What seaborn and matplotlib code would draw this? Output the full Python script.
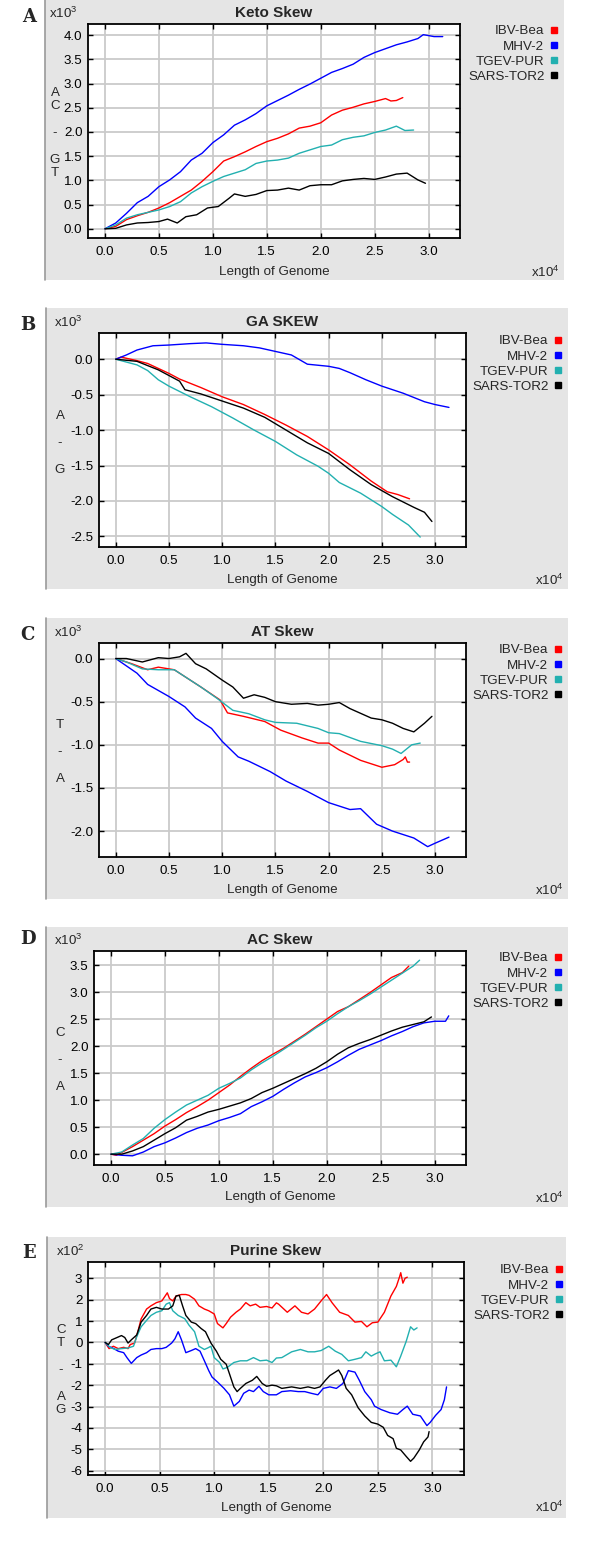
import pandas as pd
import seaborn as sns
import matplotlib.pyplot as plt
from matplotlib.lines import Line2D
from matplotlib.patches import Rectangle

strains = ['IBV-Bea', 'MHV-2', 'TGEV-PUR', 'SARS-TOR2']
colors = ['#ff0000', '#0000ff', '#22b0b0', '#000000']

# x in units of 1e4 bases, y in units of 1e3 (purine skew: 1e2)
keto_ibv = [(0, 0), (0.1, 0.05), (0.2, 0.19), (0.3, 0.27), (0.4, 0.34), (0.5, 0.43), (0.6, 0.54),
            (0.7, 0.67), (0.8, 0.80), (0.9, 0.98), (1.0, 1.18), (1.1, 1.40), (1.2, 1.49), (1.3, 1.59),
            (1.4, 1.70), (1.5, 1.80), (1.6, 1.87), (1.7, 1.96), (1.8, 2.08), (1.9, 2.12), (2.0, 2.19),
            (2.1, 2.35), (2.2, 2.45), (2.3, 2.51), (2.4, 2.58), (2.5, 2.63), (2.6, 2.69), (2.65, 2.64),
            (2.7, 2.65), (2.76, 2.71)]
keto_mhv = [(0, 0), (0.1, 0.12), (0.2, 0.32), (0.3, 0.54), (0.4, 0.67), (0.5, 0.87), (0.6, 1.01),
            (0.7, 1.18), (0.8, 1.42), (0.9, 1.56), (1.0, 1.78), (1.1, 1.94), (1.2, 2.14), (1.3, 2.25),
            (1.4, 2.38), (1.5, 2.54), (1.6, 2.65), (1.7, 2.76), (1.8, 2.88), (1.9, 2.99), (2.0, 3.11),
            (2.1, 3.23), (2.2, 3.31), (2.3, 3.40), (2.4, 3.54), (2.5, 3.64), (2.6, 3.72), (2.7, 3.80),
            (2.8, 3.86), (2.9, 3.93), (2.95, 4.01), (3.05, 3.97), (3.13, 3.97)]
keto_tgev = [(0, 0), (0.1, 0.08), (0.2, 0.22), (0.3, 0.29), (0.4, 0.34), (0.5, 0.39), (0.6, 0.46),
             (0.7, 0.56), (0.8, 0.74), (0.9, 0.87), (1.0, 0.98), (1.1, 1.08), (1.2, 1.15), (1.3, 1.22),
             (1.4, 1.35), (1.5, 1.40), (1.6, 1.42), (1.7, 1.46), (1.8, 1.56), (1.9, 1.63), (2.0, 1.70),
             (2.1, 1.73), (2.2, 1.84), (2.3, 1.89), (2.4, 1.92), (2.5, 1.99), (2.6, 2.04), (2.7, 2.12),
             (2.78, 2.03), (2.86, 2.04)]
keto_sars = [(0, 0), (0.1, 0.01), (0.2, 0.08), (0.3, 0.12), (0.4, 0.13), (0.5, 0.15), (0.58, 0.20),
             (0.67, 0.12), (0.75, 0.25), (0.85, 0.29), (0.95, 0.43), (1.05, 0.46), (1.15, 0.63),
             (1.2, 0.72), (1.3, 0.67), (1.4, 0.71), (1.5, 0.79), (1.6, 0.80), (1.7, 0.84), (1.8, 0.80),
             (1.9, 0.89), (2.0, 0.91), (2.1, 0.91), (2.2, 0.99), (2.3, 1.02), (2.4, 1.04), (2.5, 1.02),
             (2.6, 1.07), (2.7, 1.13), (2.8, 1.15), (2.9, 1.01), (2.97, 0.94)]

ga_ibv = [(0, 0), (0.05, 0.03), (0.2, -0.02), (0.3, -0.06), (0.5, -0.20), (0.6, -0.28), (0.8, -0.40),
          (1.0, -0.53), (1.2, -0.64), (1.4, -0.78), (1.6, -0.93), (1.8, -1.09), (2.0, -1.28),
          (2.2, -1.49), (2.4, -1.72), (2.55, -1.87), (2.65, -1.91), (2.76, -1.97)]
ga_mhv = [(0, 0), (0.1, 0.06), (0.2, 0.13), (0.35, 0.19), (0.5, 0.20), (0.7, 0.22), (0.85, 0.23),
          (1.0, 0.21), (1.2, 0.19), (1.35, 0.16), (1.5, 0.11), (1.65, 0.06), (1.8, -0.07), (2.0, -0.10),
          (2.1, -0.13), (2.2, -0.19), (2.35, -0.29), (2.5, -0.38), (2.6, -0.43), (2.7, -0.48),
          (2.8, -0.54), (2.9, -0.60), (3.0, -0.64), (3.13, -0.68)]
ga_tgev = [(0, 0), (0.2, -0.08), (0.3, -0.16), (0.4, -0.29), (0.5, -0.38), (0.7, -0.53), (0.9, -0.67),
           (1.1, -0.83), (1.3, -1.00), (1.5, -1.16), (1.7, -1.35), (1.9, -1.51), (2.0, -1.61),
           (2.1, -1.74), (2.3, -1.89), (2.5, -2.08), (2.6, -2.19), (2.75, -2.34), (2.86, -2.51)]
ga_sars = [(0, 0), (0.2, -0.03), (0.4, -0.15), (0.6, -0.31), (0.65, -0.43), (0.8, -0.49), (1.0, -0.59),
           (1.2, -0.69), (1.4, -0.82), (1.6, -1.00), (1.8, -1.18), (2.0, -1.33), (2.2, -1.56),
           (2.4, -1.77), (2.6, -1.94), (2.8, -2.09), (2.9, -2.16), (2.97, -2.29)]

at_ibv = [(0, 0), (0.15, -0.06), (0.3, -0.13), (0.4, -0.10), (0.55, -0.13), (0.65, -0.21), (0.8, -0.33),
          (0.98, -0.48), (1.05, -0.63), (1.2, -0.67), (1.4, -0.73), (1.55, -0.83), (1.75, -0.92),
          (1.9, -0.98), (2.0, -0.98), (2.1, -1.06), (2.3, -1.18), (2.5, -1.26), (2.62, -1.23),
          (2.7, -1.17), (2.72, -1.14), (2.74, -1.20), (2.76, -1.20)]
at_mhv = [(0, 0), (0.2, -0.17), (0.3, -0.30), (0.5, -0.44), (0.65, -0.56), (0.75, -0.69), (0.9, -0.81),
          (1.0, -0.96), (1.15, -1.14), (1.25, -1.19), (1.45, -1.31), (1.6, -1.42), (1.8, -1.54),
          (2.0, -1.67), (2.2, -1.75), (2.3, -1.74), (2.45, -1.92), (2.6, -2.00), (2.8, -2.08),
          (2.93, -2.18), (3.0, -2.14), (3.13, -2.07)]
at_tgev = [(0, 0), (0.1, -0.04), (0.25, -0.12), (0.4, -0.13), (0.55, -0.13), (0.65, -0.21), (0.8, -0.33),
           (0.95, -0.46), (1.1, -0.60), (1.25, -0.64), (1.4, -0.71), (1.5, -0.74), (1.7, -0.75),
           (1.9, -0.81), (2.0, -0.86), (2.1, -0.87), (2.3, -0.96), (2.5, -1.01), (2.6, -1.05),
           (2.68, -1.10), (2.78, -1.00), (2.86, -0.98)]
at_sars = [(0, 0), (0.1, 0.0), (0.25, -0.04), (0.4, 0.01), (0.5, 0.0), (0.6, 0.02), (0.66, 0.06),
           (0.75, -0.06), (0.85, -0.12), (1.0, -0.25), (1.1, -0.33), (1.2, -0.46), (1.3, -0.42),
           (1.4, -0.45), (1.5, -0.50), (1.65, -0.53), (1.8, -0.52), (1.9, -0.54), (2.0, -0.53),
           (2.1, -0.51), (2.2, -0.58), (2.4, -0.69), (2.5, -0.71), (2.6, -0.75), (2.7, -0.81),
           (2.8, -0.85), (2.9, -0.75), (2.97, -0.67)]

ac_ibv = [(0, 0), (0.05, -0.02), (0.2, 0.14), (0.3, 0.26), (0.4, 0.38), (0.5, 0.52), (0.6, 0.64),
          (0.7, 0.77), (0.8, 0.88), (0.9, 1.00), (1.0, 1.14), (1.1, 1.28), (1.2, 1.44), (1.3, 1.59),
          (1.4, 1.73), (1.5, 1.85), (1.6, 1.96), (1.7, 2.09), (1.8, 2.22), (1.9, 2.36), (2.0, 2.50),
          (2.1, 2.64), (2.2, 2.73), (2.3, 2.86), (2.4, 2.99), (2.5, 3.13), (2.6, 3.27), (2.7, 3.36),
          (2.76, 3.48)]
ac_mhv = [(0, 0), (0.1, -0.02), (0.2, -0.03), (0.3, 0.04), (0.4, 0.14), (0.5, 0.21), (0.6, 0.30),
          (0.7, 0.40), (0.8, 0.48), (0.9, 0.54), (1.0, 0.62), (1.1, 0.68), (1.2, 0.75), (1.3, 0.88),
          (1.4, 0.97), (1.5, 1.07), (1.6, 1.20), (1.7, 1.32), (1.8, 1.43), (1.9, 1.51), (2.0, 1.60),
          (2.1, 1.71), (2.2, 1.83), (2.3, 1.94), (2.4, 2.02), (2.5, 2.10), (2.6, 2.19), (2.7, 2.27),
          (2.8, 2.36), (2.9, 2.43), (3.0, 2.46), (3.1, 2.46), (3.13, 2.56)]
ac_tgev = [(0, 0), (0.1, 0.04), (0.2, 0.17), (0.3, 0.29), (0.4, 0.48), (0.5, 0.64), (0.6, 0.78),
           (0.7, 0.91), (0.8, 1.00), (0.9, 1.09), (1.0, 1.22), (1.1, 1.31), (1.2, 1.41), (1.3, 1.56),
           (1.4, 1.69), (1.5, 1.81), (1.6, 1.94), (1.7, 2.07), (1.8, 2.20), (1.9, 2.34), (2.0, 2.46),
           (2.1, 2.60), (2.2, 2.73), (2.3, 2.84), (2.4, 2.96), (2.5, 3.09), (2.6, 3.22), (2.7, 3.35),
           (2.8, 3.48), (2.86, 3.59)]
ac_sars = [(0, 0), (0.1, 0.0), (0.2, 0.06), (0.3, 0.14), (0.4, 0.26), (0.5, 0.38), (0.6, 0.49),
           (0.7, 0.63), (0.8, 0.70), (0.9, 0.78), (1.0, 0.83), (1.1, 0.89), (1.2, 0.95), (1.3, 1.03),
           (1.4, 1.14), (1.5, 1.22), (1.6, 1.31), (1.7, 1.40), (1.8, 1.49), (1.9, 1.59), (2.0, 1.71),
           (2.1, 1.85), (2.2, 1.97), (2.3, 2.05), (2.4, 2.12), (2.5, 2.20), (2.6, 2.28), (2.7, 2.35),
           (2.8, 2.40), (2.9, 2.45), (2.97, 2.54)]

pur_ibv = [(0, 0), (0.036, -0.29), (0.076, -0.18), (0.12, -0.29), (0.17, -0.23), (0.21, -0.29),
           (0.23, -0.1), (0.27, -0.03), (0.30, 0.5), (0.33, 1.1), (0.38, 1.56), (0.42, 1.71),
           (0.47, 1.86), (0.52, 1.94), (0.57, 2.32), (0.59, 2.05), (0.62, 1.94), (0.65, 2.17),
           (0.70, 2.24), (0.74, 2.24), (0.77, 2.2), (0.82, 2.02), (0.86, 1.71), (0.91, 1.56),
           (0.95, 1.48), (1.0, 1.33), (1.03, 0.88), (1.08, 0.68), (1.11, 0.88), (1.15, 1.18),
           (1.20, 1.41), (1.24, 1.56), (1.29, 1.86), (1.33, 1.71), (1.38, 1.79), (1.42, 1.64),
           (1.48, 1.68), (1.53, 1.61), (1.57, 1.85), (1.59, 1.79), (1.67, 1.41), (1.74, 1.71),
           (1.80, 1.41), (1.86, 1.33), (1.92, 1.56), (1.98, 1.94), (2.03, 2.24), (2.08, 1.86),
           (2.15, 1.41), (2.23, 1.26), (2.29, 0.95), (2.35, 0.98), (2.40, 0.73), (2.45, 0.92),
           (2.50, 0.95), (2.56, 1.41), (2.62, 2.17), (2.67, 2.62), (2.70, 3.08), (2.71, 3.26),
           (2.73, 2.77), (2.75, 3.0), (2.77, 3.05)]
pur_mhv = [(0, 0), (0.03, -0.18), (0.08, -0.29), (0.12, -0.41), (0.17, -0.48), (0.20, -0.71),
           (0.24, -0.98), (0.29, -0.71), (0.33, -0.59), (0.38, -0.48), (0.42, -0.33), (0.47, -0.29),
           (0.52, -0.29), (0.56, -0.23), (0.61, -0.03), (0.64, 0.17), (0.67, 0.5), (0.70, 0.12),
           (0.74, -0.48), (0.79, -0.38), (0.83, -0.29), (0.87, -0.41), (0.91, -0.86), (0.95, -1.32),
           (0.98, -1.62), (1.03, -1.85), (1.09, -2.15), (1.14, -2.45), (1.18, -2.98), (1.23, -2.76),
           (1.27, -2.38), (1.32, -2.23), (1.36, -2.3), (1.41, -2.05), (1.45, -2.3), (1.50, -2.45),
           (1.57, -2.45), (1.62, -2.3), (1.70, -2.26), (1.77, -2.3), (1.83, -2.3), (1.89, -2.38),
           (1.95, -2.45), (2.0, -2.15), (2.06, -2.08), (2.12, -2.15), (2.18, -1.92), (2.23, -1.32),
           (2.29, -1.39), (2.33, -1.77), (2.38, -2.3), (2.44, -2.68), (2.47, -2.98), (2.53, -3.14),
           (2.61, -3.29), (2.68, -3.36), (2.73, -3.14), (2.77, -2.98), (2.82, -3.36), (2.89, -3.44),
           (2.95, -3.89), (2.98, -3.74), (3.03, -3.41), (3.08, -3.14), (3.11, -2.68), (3.13, -2.08)]
pur_tgev = [(0, 0), (0.045, -0.23), (0.09, -0.33), (0.15, -0.29), (0.21, -0.26), (0.26, -0.18),
            (0.29, 0.27), (0.33, 0.73), (0.38, 1.03), (0.42, 1.26), (0.47, 1.41), (0.52, 1.48),
            (0.56, 1.79), (0.59, 1.86), (0.62, 1.48), (0.67, 1.26), (0.73, 1.11), (0.77, 0.8),
            (0.82, 0.5), (0.86, -0.18), (0.91, -0.33), (0.94, -0.26), (0.97, -0.18), (1.0, -0.71),
            (1.05, -0.94), (1.08, -1.24), (1.12, -1.17), (1.18, -0.94), (1.24, -0.86), (1.30, -0.86),
            (1.36, -0.71), (1.42, -0.86), (1.48, -0.83), (1.53, -0.94), (1.57, -0.73), (1.62, -0.71),
            (1.71, -0.44), (1.79, -0.33), (1.86, -0.44), (1.92, -0.44), (1.98, -0.38), (2.05, -0.18),
            (2.11, -0.41), (2.17, -0.56), (2.23, -0.86), (2.29, -0.79), (2.35, -0.71), (2.39, -0.44),
            (2.44, -0.64), (2.48, -0.53), (2.52, -0.44), (2.56, -0.86), (2.62, -0.83), (2.67, -1.14),
            (2.71, -0.64), (2.76, 0.05), (2.80, 0.73), (2.83, 0.58), (2.86, 0.68)]
pur_sars = [(0, 0), (0.03, -0.1), (0.06, 0.12), (0.11, 0.23), (0.15, 0.32), (0.18, 0.23), (0.21, -0.03),
            (0.24, 0.12), (0.29, 0.35), (0.33, 0.95), (0.38, 1.26), (0.42, 1.56), (0.47, 1.64),
            (0.52, 1.56), (0.58, 1.56), (0.62, 1.71), (0.65, 2.17), (0.68, 2.2), (0.71, 1.71),
            (0.74, 1.26), (0.79, 0.95), (0.83, 0.88), (0.88, 0.65), (0.92, 0.5), (0.97, -0.03),
            (1.02, -0.41), (1.06, -0.79), (1.11, -1.02), (1.14, -1.47), (1.18, -2.08), (1.21, -2.3),
            (1.24, -2.15), (1.29, -1.92), (1.35, -1.77), (1.39, -1.59), (1.44, -1.92), (1.48, -2.05),
            (1.53, -2.0), (1.57, -2.03), (1.62, -2.15), (1.71, -2.08), (1.79, -2.15), (1.86, -2.08),
            (1.92, -2.15), (1.97, -2.08), (2.02, -1.77), (2.06, -1.55), (2.11, -1.39), (2.14, -1.29),
            (2.17, -1.55), (2.21, -2.15), (2.26, -2.45), (2.32, -3.06), (2.38, -3.44), (2.44, -3.74),
            (2.50, -3.82), (2.55, -3.97), (2.59, -4.35), (2.64, -4.5), (2.67, -4.95), (2.71, -5.03),
            (2.76, -5.33), (2.80, -5.56), (2.83, -5.41), (2.88, -5.03), (2.92, -4.65), (2.96, -4.42),
            (2.97, -4.17)]

titles = ['Keto Skew', 'GA SKEW', 'AT Skew', 'AC Skew', 'Purine Skew']
letters = ['A', 'B', 'C', 'D', 'E']
ylabels = ['A\nC\n\n-\n\nG\nT', 'A\n\n-\n\nG', 'T\n\n-\n\nA', 'C\n\n-\n\nA', 'C\nT\n\n-\n\nA\nG']
yscales = ['3', '3', '3', '3', '2']
xticks = [0.0, 0.5, 1.0, 1.5, 2.0, 2.5, 3.0]
yticks = [[0.0, 0.5, 1.0, 1.5, 2.0, 2.5, 3.0, 3.5, 4.0],
          [0.0, -0.5, -1.0, -1.5, -2.0, -2.5],
          [0.0, -0.5, -1.0, -1.5, -2.0],
          [0.0, 0.5, 1.0, 1.5, 2.0, 2.5, 3.0, 3.5],
          [3, 2, 1, 0, -1, -2, -3, -4, -5, -6]]
ylims = [(-0.19, 4.23), (-2.65, 0.37), (-2.30, 0.18), (-0.20, 3.76), (-6.2, 3.76)]

series = [
    [keto_ibv, keto_mhv, keto_tgev, keto_sars],
    [ga_ibv, ga_mhv, ga_tgev, ga_sars],
    [at_ibv, at_mhv, at_tgev, at_sars],
    [ac_ibv, ac_mhv, ac_tgev, ac_sars],
    [pur_ibv, pur_mhv, pur_tgev, pur_sars],
]

rows = []
for p, group in enumerate(series):
    for strain, pts in zip(strains, group):
        for i, (x, y) in enumerate(pts):
            rows.append({'panel': p, 'strain': strain, 'order': i, 'x': x, 'y': y})
df = pd.DataFrame(rows)

# layout in pixels: gray box, axes box, and text anchors
W, H = 600, 1543
layout = [
    dict(gray=(45, 0, 564, 280), ax=(88, 24, 460, 238), title_y=13, ylab=(55, 133), mult=(49, 13),
         xmult=(560, 272), letter=(29, 17), xlab_y=272, leg=(557, 25)),
    dict(gray=(46, 308, 568, 589), ax=(99, 333, 466, 547), title_y=322, ylab=(60, 443), mult=(54, 322),
         xmult=(564, 580), letter=(28, 325), xlab_y=580, leg=(561, 335)),
    dict(gray=(46, 618, 568, 899), ax=(99, 643, 466, 857), title_y=632, ylab=(60, 752), mult=(54, 632),
         xmult=(564, 890), letter=(27, 635), xlab_y=890, leg=(561, 644)),
    dict(gray=(46, 927, 568, 1207), ax=(94, 951, 466, 1165), title_y=940, ylab=(60, 1060), mult=(54, 940),
         xmult=(564, 1198), letter=(28, 939), xlab_y=1197, leg=(561, 952)),
    dict(gray=(47, 1237, 566, 1518), ax=(88, 1262, 464, 1475), title_y=1251, ylab=(61, 1370),
         mult=(56, 1251), xmult=(564, 1507), letter=(29, 1253), xlab_y=1508, leg=(562, 1264)),
]

sns.set_style('white')
plt.rcParams['font.family'] = ['Liberation Sans', 'DejaVu Sans']
plt.rcParams['mathtext.default'] = 'regular'

fig = plt.figure(figsize=(W / 100, H / 100), dpi=100)
fig.patch.set_facecolor('white')


def fx(x):
    return x / W


def fy(y):
    return 1 - y / H


FS = 9.6
palette = dict(zip(strains, colors))
for p in range(5):
    lay = layout[p]
    gx0, gy0, gx1, gy1 = lay['gray']
    fig.patches.append(Rectangle((fx(gx0), fy(gy1)), (gx1 - gx0) / W, (gy1 - gy0) / H,
                                 transform=fig.transFigure, facecolor='#e5e5e5', edgecolor='none',
                                 zorder=-5))
    fig.lines.append(Line2D([fx(gx0), fx(gx0)], [fy(gy0), fy(gy1)], transform=fig.transFigure,
                            color='#9a9a9a', lw=1.2, zorder=-4))

    x0, y0, x1, y1 = lay['ax']
    ax = fig.add_axes([fx(x0), fy(y1), (x1 - x0) / W, (y1 - y0) / H])
    ax.set_zorder(1)
    ax.set_facecolor('white')
    sub = df[df['panel'] == p]
    sns.lineplot(data=sub, x='x', y='y', hue='strain', hue_order=strains, palette=palette,
                 units='strain', estimator=None, sort=False, lw=1.0, legend=False, ax=ax)
    ax.set_xlim(-0.157, 3.29)
    ax.set_ylim(*ylims[p])
    ax.set_xticks(xticks)
    ax.set_xticklabels([f'{t:.1f}' for t in xticks])
    ax.set_yticks(yticks[p])
    if p == 4:
        ax.set_yticklabels([f'{t:d}' for t in yticks[p]])
    else:
        ax.set_yticklabels([f'{t:.1f}' for t in yticks[p]])
    ax.grid(True, color='#cacaca', lw=1.3)
    ax.set_axisbelow(True)
    for s in ax.spines.values():
        s.set_color('black')
        s.set_linewidth(1.3)
        s.set_visible(True)
    ax.tick_params(direction='in', length=3.5, width=1, colors='black', labelsize=FS,
                   top=True, right=True, bottom=True, left=True)
    ax.tick_params(axis='x', pad=6)
    ax.tick_params(axis='y', pad=4)
    ax.set_xlabel('')
    ax.set_ylabel('')

    cx = fx((x0 + x1) / 2)
    fig.text(cx, fy(lay['title_y']), titles[p], ha='center', va='center', fontsize=11, fontweight='bold')
    fig.text(cx, fy(lay['xlab_y']), 'Length of Genome', ha='center', va='center', fontsize=FS)
    fig.text(fx(lay['xmult'][0]), fy(lay['xmult'][1]), r'x10$^4$', ha='right', va='center', fontsize=FS)
    fig.text(fx(lay['mult'][0]), fy(lay['mult'][1]), r'x10$^' + yscales[p] + '$', ha='left', va='center',
             fontsize=FS)
    fig.text(fx(lay['ylab'][0]), fy(lay['ylab'][1]), ylabels[p], ha='center', va='center', fontsize=FS,
             linespacing=1.15)
    fig.text(fx(lay['letter'][0]), fy(lay['letter'][1]), letters[p], ha='center', va='center',
             fontsize=13, fontweight='bold', family=['DejaVu Serif'])

    handles = [Line2D([], [], marker='s', linestyle='', color=c, markersize=4) for c in colors]
    ax.legend(handles, strains, markerfirst=False, frameon=False, loc='upper right',
              bbox_to_anchor=(fx(lay['leg'][0]), fy(lay['leg'][1])), bbox_transform=fig.transFigure,
              borderpad=0, borderaxespad=0, fontsize=FS, labelspacing=0.22, handlelength=0.45,
              handletextpad=0.5)

fig.savefig('out.png', dpi=100, facecolor='white')
